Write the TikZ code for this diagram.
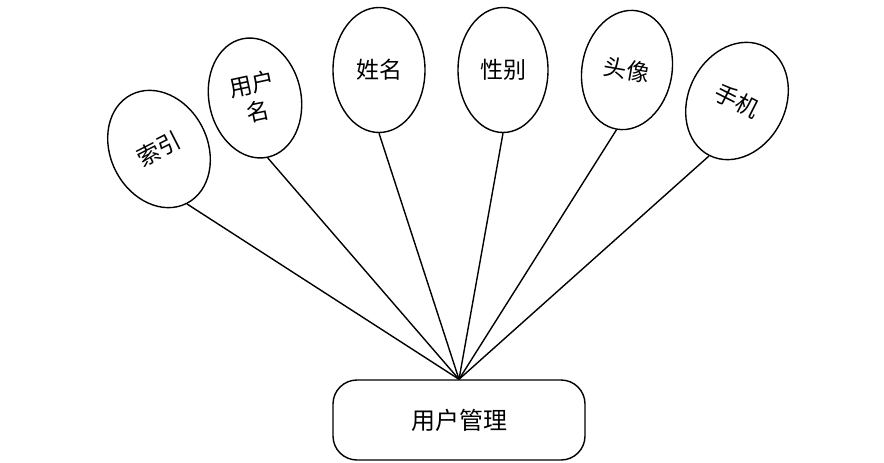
\documentclass[tikz,border=0pt]{standalone}
\usepackage{fontspec}
\newfontfamily\cjk{Noto Sans CJK SC}
\usetikzlibrary{shapes.geometric}

\begin{document}
\begin{tikzpicture}[
    x=1pt, y=-1pt,
    attr/.style={draw, ellipse, line width=1.4pt, inner sep=0pt, align=center, font=\cjk\fontsize{23}{28}\selectfont},
    entity/.style={draw, rectangle, rounded corners=24pt, line width=1.4pt, minimum width=252pt, minimum height=80pt, font=\cjk\fontsize{24}{28}\selectfont},
    link/.style={line width=1.4pt},
]
    \useasboundingbox (0,0) rectangle (884,463);

    \node[entity] (user) at (459,420) {用户管理};
    \coordinate (hub) at (user.north);

    \node[attr, minimum width=97pt, minimum height=122pt, rotate=27]  (idx)    at (159,149) {索引};
    \node[attr, minimum width=92pt, minimum height=121pt, rotate=12]  (uname)  at (255,98)  {用户\\名};
    \node[attr, minimum width=92pt, minimum height=125pt]             (name)   at (379,70)  {姓名};
    \node[attr, minimum width=90pt, minimum height=125pt]             (gender) at (503,70)  {性别};
    \node[attr, minimum width=90pt, minimum height=120pt, rotate=-10] (avatar) at (627,70)  {头像};
    \node[attr, minimum width=97pt, minimum height=122pt, rotate=-27] (phone)  at (737,101) {手机};

    \draw[link] (idx.south)    -- (hub);
    \draw[link] (uname.south)  -- (hub);
    \draw[link] (name.south)   -- (hub);
    \draw[link] (gender.south) -- (hub);
    \draw[link] (avatar.south) -- (hub);
    \draw[link] (phone.south)  -- (hub);
\end{tikzpicture}
\end{document}
